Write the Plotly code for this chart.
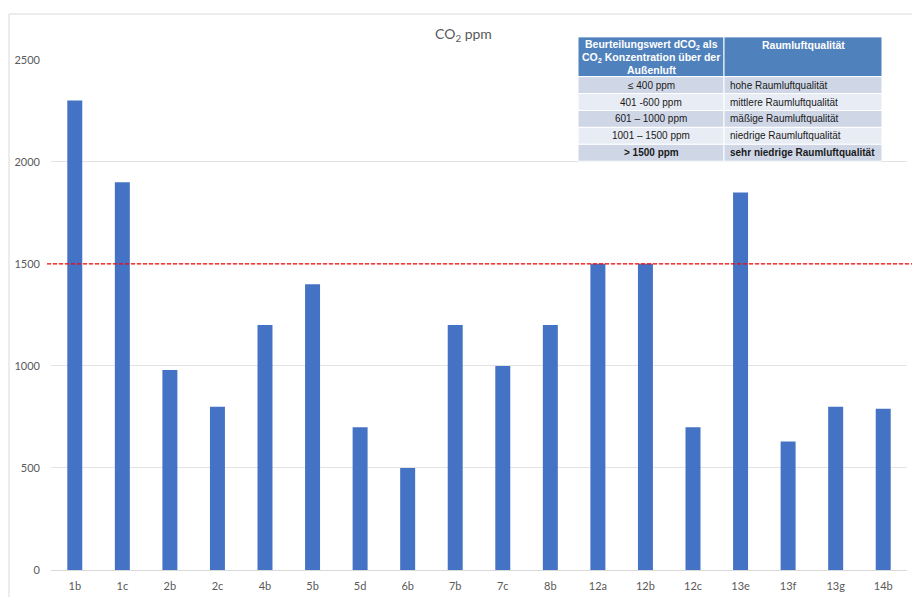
import plotly.graph_objects as go

# Messpunkte und CO2-Konzentration (ppm)
rooms = ["1b", "1c", "2b", "2c", "4b", "5b", "5d", "6b", "7b", "7c",
         "8b", "12a", "12b", "12c", "13e", "13f", "13g", "14b"]
co2_ppm = [2300, 1900, 980, 800, 1200, 1400, 700, 500, 1200, 1000,
           1200, 1500, 1500, 700, 1850, 630, 800, 790]

# Grenzwert fuer die Linie
threshold = 1500

# Bewertungstabelle
header_left = ["Beurteilungswert dCO<sub>2</sub> als",
               "CO<sub>2</sub> Konzentration über der",
               "Außenluft"]
header_right = "Raumluftqualität"
col_range = ["≤ 400 ppm", "401 -600 ppm", "601 – 1000 ppm", "1001 – 1500 ppm", "> 1500 ppm"]
col_quality = ["hohe Raumluftqualität", "mittlere Raumluftqualität", "mäßige Raumluftqualität",
               "niedrige Raumluftqualität", "sehr niedrige Raumluftqualität"]
bold_rows = [False, False, False, False, True]

W, H = 912, 597
ML, MR, MT, MB = 51, 5, 14, 24
pw = W - ML - MR
ph = H - MT - MB


def px_x(x):
    return (x - ML) / pw


def px_y(y):
    return (H - MB - y) / ph


FONT = "Lato"
TFONT = "Liberation Sans"
GRAY = "#595959"

fig = go.Figure()

fig.add_trace(go.Bar(
    x=rooms, y=co2_ppm,
    marker=dict(color="#4472c4", line=dict(width=0)),
    showlegend=False,
))

shapes = [
    # Rahmen des Diagrammbereichs
    dict(type="rect", xref="paper", yref="paper",
         x0=px_x(9), x1=px_x(940), y0=px_y(640), y1=px_y(14),
         line=dict(color="#d9d9d9", width=1), fillcolor="rgba(0,0,0,0)"),
    # Grenzwertlinie 1500 ppm
    dict(type="line", xref="paper", yref="y",
         x0=px_x(47), x1=px_x(912), y0=threshold, y1=threshold,
         line=dict(color="#ff0000", width=1.3, dash="4px,2px")),
]
annotations = [
    dict(text="CO<sub>2</sub> ppm", xref="paper", yref="paper",
         x=px_x(463), y=px_y(35), showarrow=False,
         xanchor="center", yanchor="middle",
         font=dict(family=FONT, size=14, color=GRAY)),
]

# Tabellengeometrie (Pixel)
tx0, tx1, tx2 = 578, 724, 882
ty_head0, ty_head1 = 37, 77
row_h = 17
row_fill = ["#cfd7e7", "#e8ecf4"]


def cell_rect(x0, x1, y0, y1, fill):
    return dict(type="rect", xref="paper", yref="paper", layer="above",
                x0=px_x(x0), x1=px_x(x1), y0=px_y(y1), y1=px_y(y0),
                line=dict(color="white", width=1), fillcolor=fill)


def cell_text(text, x, y, anchor, bold=False, color="#1a1a1a", size=10):
    if bold:
        text = "<b>" + text + "</b>"
    return dict(text=text, xref="paper", yref="paper", x=px_x(x), y=px_y(y),
                showarrow=False, xanchor=anchor, yanchor="middle",
                font=dict(family=TFONT, size=size, color=color))


# Kopfzeile
shapes.append(cell_rect(tx0, tx1, ty_head0, ty_head1, "#4f81bd"))
shapes.append(cell_rect(tx1, tx2, ty_head0, ty_head1, "#4f81bd"))
for i, line in enumerate(header_left):
    annotations.append(cell_text(line, (tx0 + tx1) / 2, 45.5 + i * 12.3, "center",
                                 bold=True, color="white", size=10.5))
annotations.append(cell_text(header_right, (tx1 + tx2) / 2, 45.5, "center",
                             bold=True, color="white", size=10.5))

# Datenzeilen
for i, (rng, qual) in enumerate(zip(col_range, col_quality)):
    y0 = ty_head1 + i * row_h
    y1 = y0 + row_h
    fill = row_fill[i % 2]
    shapes.append(cell_rect(tx0, tx1, y0, y1, fill))
    shapes.append(cell_rect(tx1, tx2, y0, y1, fill))
    ym = (y0 + y1) / 2
    annotations.append(cell_text(rng, (tx0 + tx1) / 2, ym, "center", bold=bold_rows[i]))
    annotations.append(cell_text(qual, tx1 + 4, ym, "left", bold=bold_rows[i]))

fig.update_layout(
    width=W, height=H,
    margin=dict(l=ML, r=MR, t=MT, b=MB),
    paper_bgcolor="white",
    plot_bgcolor="white",
    bargap=0.685,
    font=dict(family=FONT, size=11, color=GRAY),
    xaxis=dict(
        type="category",
        showgrid=False,
        showline=True, linecolor="#d9d9d9", linewidth=1,
        ticks="", ticklabelstandoff=6,
        tickfont=dict(family=FONT, size=11, color=GRAY),
        fixedrange=True,
    ),
    yaxis=dict(
        range=[0, 2500],
        domain=[0, px_y(60)],
        tickvals=[0, 500, 1000, 1500, 2000, 2500],
        showgrid=True, gridcolor="#e3e3e3", gridwidth=1,
        zeroline=False,
        showline=False,
        ticks="", ticklabelstandoff=10,
        tickfont=dict(family=FONT, size=11, color=GRAY),
        fixedrange=True,
    ),
    shapes=shapes,
    annotations=annotations,
)

fig.write_html("out.html")
